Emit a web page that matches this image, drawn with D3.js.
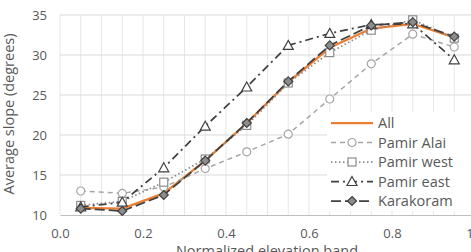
<!DOCTYPE html>
<html>
<head>
<meta charset="utf-8">
<script src="https://cdn.jsdelivr.net/npm/d3@7"></script>
<style>
  body { margin: 0; overflow: hidden; background: #fff; }
  text { font-family: "Open Sans", sans-serif; fill: #595959; }
</style>
</head>
<body>
<script>
//elevation band centres (normalized)
var bands = [0.05, 0.15, 0.25, 0.35, 0.45, 0.55, 0.65, 0.75, 0.85, 0.95];

//average slope per band
var allSlope       = [10.9, 10.8, 12.7, 16.8, 21.5, 26.6, 30.9, 33.3, 33.9, 32.2];
var pamirAlai      = [13.0, 12.7, 13.5, 15.8, 17.9, 20.1, 24.5, 28.9, 32.6, 31.0];
var pamirWest      = [11.2, 11.7, 14.1, 17.0, 21.2, 26.5, 30.3, 33.1, 34.4, 32.1];
var pamirEast      = [11.0, 11.6, 15.9, 21.1, 26.0, 31.2, 32.7, 33.8, 33.9, 29.4];
var karakoram      = [10.8, 10.5, 12.5, 16.8, 21.5, 26.7, 31.2, 33.7, 34.1, 32.3];

var xTicks = [0, 0.2, 0.4, 0.6, 0.8, 1.0];
var yTicks = [10, 15, 20, 25, 30, 35];

//series styling (drawing order = Excel series order)
var series = [
    {name: "All",        values: allSlope,  color: "#ED7D31", width: 2.25, dash: null,        marker: null},
    {name: "Pamir Alai", values: pamirAlai, color: "#a5a5a5", width: 1.5,  dash: "5,4",       marker: "circle"},
    {name: "Pamir west", values: pamirWest, color: "#8c8c8c", width: 1.75, dash: "1.5,2.5",   marker: "square"},
    {name: "Pamir east", values: pamirEast, color: "#404040", width: 1.75, dash: "8,4,2,4",   marker: "triangle"},
    {name: "Karakoram",  values: karakoram, color: "#404040", width: 1.75, dash: "10,4",      marker: "diamond"}
];

var width = 471,
    height = 252;

var svg = d3.select("body")
    .append("svg")
    .attr("width", width)
    .attr("height", height);

var x = d3.scaleLinear().domain([0, 1]).range([60, 475]);
var y = d3.scaleLinear().domain([10, 35]).range([215, 15]);

//gridlines: vertical every 0.05, horizontal every 5
var vGrid = d3.range(0, 1.0001, 0.05);
svg.append("g")
    .selectAll("line")
    .data(vGrid)
    .enter()
    .append("line")
    .attr("x1", function(d){ return x(d); })
    .attr("x2", function(d){ return x(d); })
    .attr("y1", y(35))
    .attr("y2", y(10))
    .attr("stroke", "#e6e6e6")
    .attr("stroke-width", 1);

svg.append("g")
    .selectAll("line")
    .data(yTicks.slice(1))
    .enter()
    .append("line")
    .attr("x1", x(0))
    .attr("x2", x(1))
    .attr("y1", function(d){ return y(d); })
    .attr("y2", function(d){ return y(d); })
    .attr("stroke", "#d9d9d9")
    .attr("stroke-width", 1);

//x axis
var xAxis = svg.append("g")
    .attr("transform", "translate(0," + y(10) + ")")
    .call(d3.axisBottom(x).tickValues(xTicks).tickFormat(d3.format(".1f")).tickSize(0).tickPadding(14));
xAxis.select(".domain").attr("stroke", "#bfbfbf").attr("stroke-width", 1.2);
xAxis.selectAll("text").style("font-size", "13px").attr("fill", "#7f7f7f");

//y axis
var yAxis = svg.append("g")
    .attr("transform", "translate(" + x(0) + ",0)")
    .call(d3.axisLeft(y).tickValues(yTicks).tickSize(0).tickPadding(13));
yAxis.select(".domain").remove();
yAxis.selectAll("text").style("font-size", "13px").attr("fill", "#7f7f7f");

//axis titles
svg.append("text")
    .attr("transform", "translate(14," + 114 + ") rotate(-90)")
    .attr("text-anchor", "middle")
    .style("font-size", "14.5px")
    .attr("fill", "#7f7f7f")
    .text("Average slope (degrees)");

svg.append("text")
    .attr("x", 267)
    .attr("y", 256)
    .attr("text-anchor", "middle")
    .style("font-size", "14.5px")
    .attr("fill", "#7f7f7f")
    .text("Normalized elevation band");

var line = d3.line()
    .x(function(d, i){ return x(bands[i]); })
    .y(function(d){ return y(d); });

function drawMarker(g, type, color){
    var s = 4;
    if (type == "circle") {
        g.append("circle").attr("r", s).attr("fill", "#fff").attr("stroke", color).attr("stroke-width", 1.2);
    } else if (type == "square") {
        g.append("rect").attr("x", -s).attr("y", -s).attr("width", 2 * s).attr("height", 2 * s)
            .attr("fill", "#fff").attr("stroke", color).attr("stroke-width", 1.2);
    } else if (type == "triangle") {
        g.append("path").attr("d", "M0,-5L5,4L-5,4Z")
            .attr("fill", "#fff").attr("stroke", color).attr("stroke-width", 1.2);
    } else if (type == "diamond") {
        g.append("path").attr("d", "M0,-4.5L4.5,0L0,4.5L-4.5,0Z")
            .attr("fill", "#8c8c8c").attr("stroke", color).attr("stroke-width", 1.2);
    }
}

series.forEach(function(s){
    var g = svg.append("g");
    g.append("path")
        .datum(s.values)
        .attr("d", line)
        .attr("fill", "none")
        .attr("stroke", s.color)
        .attr("stroke-width", s.width)
        .attr("stroke-dasharray", s.dash);
    if (s.marker) {
        s.values.forEach(function(v, i){
            var m = g.append("g").attr("transform", "translate(" + x(bands[i]) + "," + y(v) + ")");
            drawMarker(m, s.marker, s.color);
        });
    }
});

//legend with white background
var legend = svg.append("g");
legend.append("rect")
    .attr("x", 327)
    .attr("y", 112)
    .attr("width", 150)
    .attr("height", 99)
    .attr("fill", "#fff");

series.forEach(function(s, i){
    var ly = 123 + i * 19.5;
    var row = legend.append("g");
    row.append("line")
        .attr("x1", 331).attr("x2", 373)
        .attr("y1", ly).attr("y2", ly)
        .attr("stroke", s.color)
        .attr("stroke-width", s.width)
        .attr("stroke-dasharray", s.dash);
    if (s.marker) {
        var m = row.append("g").attr("transform", "translate(352," + ly + ")");
        drawMarker(m, s.marker, s.color);
    }
    row.append("text")
        .attr("x", 378)
        .attr("y", ly)
        .attr("dy", "0.35em")
        .style("font-size", "14.5px")
        .attr("fill", "#7f7f7f")
        .text(s.name);
});
</script>
</body>
</html>
